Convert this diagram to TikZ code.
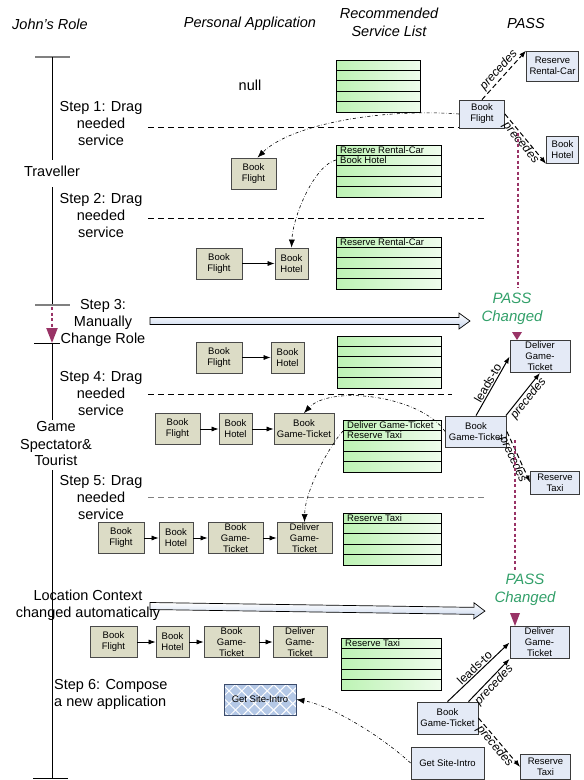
\documentclass[tikz,border=0pt]{standalone}
\usepackage{fontspec}
\setmainfont{Liberation Sans}
\usetikzlibrary{arrows.meta, patterns.meta}
\definecolor{appfill}{HTML}{DCDCC6}
\definecolor{appline}{HTML}{4A4A4A}
\definecolor{passfill}{HTML}{E4EAF6}
\definecolor{passline}{HTML}{3A3A3A}
\definecolor{listgreen}{HTML}{BDF3B4}
\definecolor{rolemag}{HTML}{993366}
\definecolor{changegreen}{HTML}{33A06A}
\definecolor{arrowblue}{HTML}{C6D4EC}
\definecolor{sitefill}{HTML}{B4C8E6}
\definecolor{siteline}{HTML}{3B4B6B}

\begin{document}
\begin{tikzpicture}[
    x=1pt, y=-1pt, % pixel grid, y grows downwards
    every node/.style={font=\fontsize{14.5}{17}\selectfont},
    head/.style={align=center, font=\fontsize{14.5}{18}\selectfont\itshape},
    steptext/.style={align=center, inner sep=0pt},
    appbox/.style={draw=appline, fill=appfill, line width=0.8pt, align=center,
        inner sep=0pt, minimum height=31pt, font=\fontsize{9.5}{11}\selectfont},
    passbox/.style={draw=passline, fill=passfill, line width=0.8pt, align=center,
        inner sep=0pt, font=\fontsize{9.5}{11}\selectfont},
    rowtext/.style={anchor=west, inner sep=0pt, font=\fontsize{9.5}{10}\selectfont},
    relname/.style={sloped, inner sep=1pt, font=\fontsize{12}{12}\selectfont\itshape},
    seq/.style={line width=0.7pt, -{Latex[length=7pt,width=5pt]}},
    drag/.style={dash dot, line width=0.6pt, -{Latex[length=8pt,width=6pt]}},
    prec/.style={dash pattern=on 5pt off 3pt, line width=1pt, -{Latex[length=7pt,width=5pt]}},
    leads/.style={line width=1pt, -{Latex[length=7pt,width=5pt]}},
    stepline/.style={dash pattern=on 6pt off 4pt, line width=0.7pt},
    changed/.style={text=changegreen, align=center, inner sep=0pt,
        font=\fontsize{15}{18}\selectfont\itshape},
    roledot/.style={rolemag, line width=2.2pt, dash pattern=on 3pt off 2.5pt},
    tick/.style={gray, line width=1.4pt},
    bigarrow/.style={draw=black, line width=0.7pt, top color=white, bottom color=arrowblue}
]
    \useasboundingbox (0,0) rectangle (584,780);

    % --- 1. MACROS ---
    % green service list: name, (left,top), width, text of row 1, text of row 2
    \def\svcList#1(#2,#3)#4#5#6{
        \coordinate (#1) at (#2,#3);
        \shade[left color=listgreen, right color=listgreen!25] (#2,#3) rectangle ++(#4,52);
        \foreach \rw in {0,...,4}
            \draw[line width=0.7pt] (#2,#3+\rw*10.4) rectangle ++(#4,10.4);
        \node[rowtext] (#1-a) at (#2+4,#3+5) {#5};
        \node[rowtext] (#1-b) at (#2+4,#3+15.4) {#6};
    }
    % wide hollow arrow: (tail x, y), tip x
    \def\bigArrow(#1,#2)#3{
        \draw[bigarrow] (#1,#2-3.5) -- (#3-11,#2-3.5) -- (#3-11,#2-8) -- (#3,#2)
            -- (#3-11,#2+8) -- (#3-11,#2+3.5) -- (#1,#2+3.5) -- cycle;
    }

    % --- 2. COLUMN HEADERS ---
    \node[head] (hRole) at (50,24) {John's Role};
    \node[head] (hApp) at (250,24) {Personal Application};
    \node[head] (hList) at (389,22) {Recommended\\Service List};
    \node[head] (hPass) at (526,24) {PASS};

    % --- 3. ROLE TIMELINE ---
    \draw[tick] (35,57) -- (70,57);
    \draw[line width=0.7pt] (52,57) -- (52,160);
    \node (trav) at (52,171) {Traveller};
    \draw[line width=0.7pt] (52,187) -- (52,305);
    \draw[tick] (35,305) -- (70,305);
    \draw[roledot, -{Triangle[width=11pt,length=15pt]}] (52,307) -- (52,343);
    \draw[line width=0.8pt] (34,343) -- (60,343);
    \draw[line width=0.7pt] (52,343) -- (52,420);
    \node[align=center, inner sep=0pt] (spect) at (56,444) {Game\\Spectator\&\\Tourist};
    \draw[line width=0.7pt] (52,470) -- (52,778);
    \draw[line width=0.8pt] (33,778) -- (68,778);

    % step texts
    \node[steptext] (st1) at (101,124) {Step 1: Drag\\needed\\service};
    \node[steptext] (st2) at (101,216) {Step 2: Drag\\needed\\service};
    \node[steptext] (st3) at (103,323) {Step 3:\\Manually\\Change Role};
    \node[steptext] (st4) at (101,394) {Step 4: Drag\\needed\\service};
    \node[steptext] (st5) at (101,498) {Step 5: Drag\\needed\\service};
    \node[steptext] (loc) at (88,605) {Location Context\\changed automatically};
    \node[steptext, anchor=west, align=left] (st6) at (54,694) {Step 6: Compose\\a new application};

    % --- 4. SERVICE LISTS ---
    \svcList{L1}(336,60){84}{}{}
    \svcList{L2}(336,145){105}{Reserve Rental-Car}{Book Hotel}
    \svcList{L3}(336,237){105}{Reserve Rental-Car}{}
    \svcList{L4}(337,336){104}{}{}
    \svcList{L5}(343,420){98}{Deliver Game-Ticket}{Reserve Taxi}
    \svcList{L6}(343,513){98}{Reserve Taxi}{}
    \svcList{L7}(341,638){100}{Reserve Taxi}{}

    % --- 5. PERSONAL APPLICATION ---
    \node (null) at (250,85) {null};
    \node[appbox, minimum width=45pt] (f1) at (253.5,173.5) {Book\\Flight};

    \node[appbox, minimum width=46pt] (f2) at (219,263.5) {Book\\Flight};
    \node[appbox, minimum width=33pt] (h2) at (291.5,263.5) {Book\\Hotel};
    \draw[seq] (f2) -- (h2);

    \node[appbox, minimum width=46pt] (f3) at (219,357.5) {Book\\Flight};
    \node[appbox, minimum width=33pt] (h3) at (287.5,357.5) {Book\\Hotel};
    \draw[seq] (f3) -- (h3);

    \node[appbox, minimum width=45pt] (f4) at (177.5,429) {Book\\Flight};
    \node[appbox, minimum width=33pt] (h4) at (235.5,429) {Book\\Hotel};
    \node[appbox, minimum width=60pt] (g4) at (304,429) {Book\\Game-Ticket};
    \draw[seq] (f4) -- (h4);
    \draw[seq] (h4) -- (g4);

    \node[appbox, minimum width=46pt] (f5) at (121,538) {Book\\Flight};
    \node[appbox, minimum width=34pt] (h5) at (176,538) {Book\\Hotel};
    \node[appbox, minimum width=55pt] (g5) at (235.5,538) {Book\\Game-\\Ticket};
    \node[appbox, minimum width=55pt] (d5) at (304.5,538) {Deliver\\Game-\\Ticket};
    \draw[seq] (f5) -- (h5);
    \draw[seq] (h5) -- (g5);
    \draw[seq] (g5) -- (d5);

    \node[appbox, minimum width=47pt] (f6) at (113.5,642) {Book\\Flight};
    \node[appbox, minimum width=33pt] (h6) at (172.5,642) {Book\\Hotel};
    \node[appbox, minimum width=55pt] (g6) at (231.5,642) {Book\\Game-\\Ticket};
    \node[appbox, minimum width=54pt] (d6) at (300,642) {Deliver\\Game-\\Ticket};
    \draw[seq] (f6) -- (h6);
    \draw[seq] (h6) -- (g6);
    \draw[seq] (g6) -- (d6);

    \node[appbox, fill=sitefill, draw=siteline, minimum width=72pt,
        postaction={pattern={Lines[angle=45,distance=9pt,line width=1pt]}, pattern color=white},
        postaction={pattern={Lines[angle=-45,distance=9pt,line width=1pt]}, pattern color=white},
        postaction={draw=siteline, line width=0.8pt}] (s6) at (260,699.5) {Get Site-Intro};

    % --- 6. PASS ---
    \node[passbox, minimum width=52pt, minimum height=30pt] (rc) at (552.5,66) {Reserve\\Rental-Car};
    \node[passbox, minimum width=45pt, minimum height=28pt] (bf) at (482,114) {Book\\Flight};
    \node[passbox, minimum width=32pt, minimum height=27pt] (bh) at (562.5,150) {Book\\Hotel};
    \draw[prec] (bf.north) -- (rc.north west) node[relname, midway, above] (r1) {precedes};
    \draw[prec] (bf.east) -- (bh.south west) node[relname, midway, below, inner sep=0pt] (r2) {precedes};

    \node[passbox, minimum width=60pt, minimum height=32pt] (dg1) at (540,356.5) {Deliver\\Game-\\Ticket};
    \node[passbox, minimum width=61pt, minimum height=31pt] (bg1) at (476,431.5) {Book\\Game-Ticket};
    \node[passbox, minimum width=49pt, minimum height=23pt] (rt1) at (555,482.5) {Reserve\\Taxi};
    \draw[leads] (bg1.north) -- (dg1.west) node[relname, midway, above, font=\fontsize{12}{12}\selectfont] (r3) {leads-to};
    \draw[leads] ([xshift=-1pt]bg1.north east) -- (dg1.south) node[relname, midway, below] (r4) {precedes};
    \draw[prec] (bg1.east) -- (rt1.west) node[relname, midway, below, inner sep=0pt] (r5) {precedes};

    \node[passbox, minimum width=59pt, minimum height=32pt] (dg2) at (539.5,642.5) {Deliver\\Game-\\Ticket};
    \node[passbox, minimum width=61pt, minimum height=32pt] (bg2) at (447.5,718) {Book\\Game-Ticket};
    \node[passbox, minimum width=73pt, minimum height=32pt] (gs) at (447.5,763) {Get Site-Intro};
    \node[passbox, minimum width=50pt, minimum height=25pt] (rt2) at (545.5,767) {Reserve\\Taxi};
    \draw[leads] (bg2.north) -- (dg2.west) node[relname, midway, above, font=\fontsize{12}{12}\selectfont] (r6) {leads-to};
    \draw[leads] ([xshift=21pt]bg2.north) -- (dg2.south west) node[relname, midway, below] (r7) {precedes};
    \draw[prec] (bg2.east) -- (rt2.west) node[relname, midway, below, inner sep=0pt] (r8) {precedes};

    % PASS changes
    \draw[roledot] (518,133) -- (518,288);
    \node[changed] (chg1) at (512,309) {PASS\\Changed};
    \fill[rolemag] (512,332) -- (522,332) -- (517,340) -- cycle;
    \draw[roledot] (515,440) -- (515,570);
    \node[changed] (chg2) at (525,590) {PASS\\Changed};
    \fill[rolemag] (510,613) -- (520,613) -- (515,626) -- cycle;

    % --- 7. STEP LINES AND DRAGS ---
    \coordinate (e1) at (148,127);
    \draw[stepline] (e1) -- (e1 -| bf.west);
    \draw[stepline] (148,218) -- (487,218);
    \draw[stepline] (148,394) -- (452,394);
    \draw[stepline, gray] (148,497) -- (486,497);

    \bigArrow(150,321){470}
    \begin{scope}[rotate around={-0.86:(150,606)}]
        \bigArrow(150,606){485}
    \end{scope}

    \draw[drag] (bf.west) .. controls (380,108) and (290,125) .. ([xshift=4pt]f1.north);
    \draw[drag] ([yshift=-15pt]L2) .. controls (315,165) and (293,215) .. (h2.north);
    \draw[drag] (bg1.west) .. controls (420,395) and (330,385) .. (g4.north);
    \draw[drag] ([yshift=-11pt]L5) .. controls (330,445) and (305,490) .. (d5.north);
    \draw[drag] (gs.west) .. controls (380,735) and (330,705) .. (s6.east);

\end{tikzpicture}
\end{document}
